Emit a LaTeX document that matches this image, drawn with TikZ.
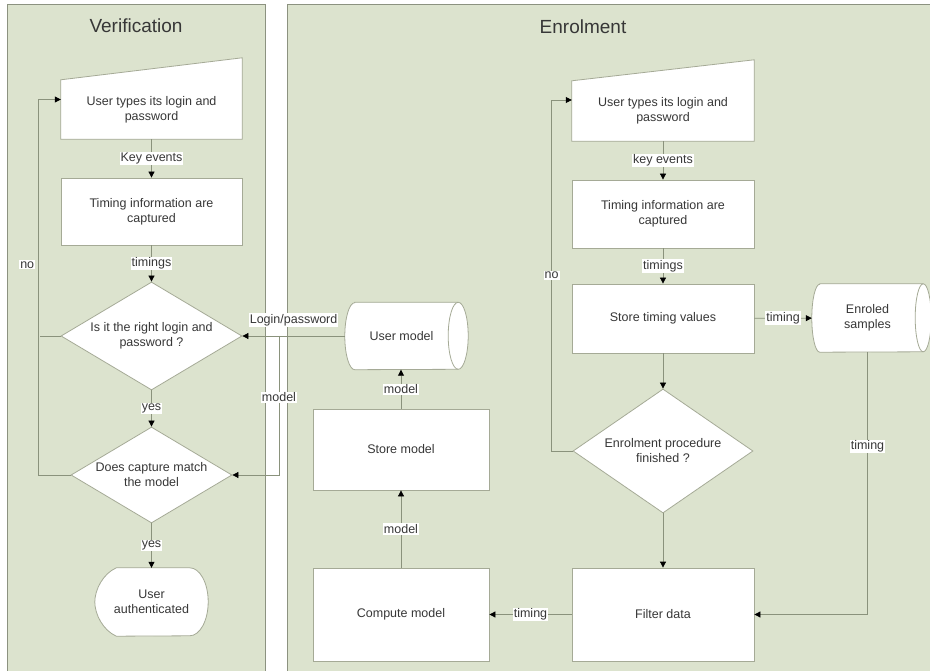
\documentclass[tikz,border=0pt]{standalone}
\usepackage{fontspec}
\setmainfont{Liberation Sans}
\usetikzlibrary{shapes.geometric,arrows.meta,calc,positioning}

\definecolor{panelfill}{RGB}{220,227,206}
\definecolor{paneledge}{RGB}{140,146,128}
\definecolor{linegrey}{RGB}{138,146,124}
\definecolor{boxedge}{RGB}{165,170,150}
\definecolor{inkgrey}{RGB}{55,55,55}

\pgfdeclarelayer{panel}
\pgfdeclarelayer{back}
\pgfsetlayers{panel,back,main}

\tikzset{
  every node/.style={font=\fontsize{12.5}{15}\selectfont, text=inkgrey},
  proc/.style={rectangle, draw=boxedge, fill=white, align=center, minimum width=181pt, inner sep=0pt, line width=0.8pt},
  bare/.style={rectangle, align=center, inner sep=0pt},
  decide/.style={diamond, draw=boxedge, fill=white, align=center, inner sep=0pt, aspect=1.68, line width=0.8pt},
  conn/.style={draw=linegrey, line width=0.8pt, -{Triangle[length=6pt,width=6pt,color=black]}},
  wire/.style={draw=linegrey, line width=0.8pt},
  shp/.style={draw=boxedge, fill=white, line width=0.8pt},
  lbl/.style={fill=white, inner sep=1pt},
  paneltitle/.style={font=\fontsize{19}{22}\selectfont}
}

\begin{document}
\begin{tikzpicture}[x=1pt,y=-1pt]
\useasboundingbox (0,0) rectangle (930,671);

% swimlanes
\begin{pgfonlayer}{panel}
\fill[white] (0,0) rectangle (930,671);
\fill[panelfill] (7,5) rectangle (265,671);
\draw[paneledge, line width=1pt] (7,671) -- (7,5) -- (265,5) -- (265,671);
\fill[panelfill] (287,5) rectangle (930,671);
\draw[paneledge, line width=1pt] (287,671) -- (287,5) -- (930,5);
\end{pgfonlayer}

\node[paneltitle] (vtitle) at (136,26) {Verification};
\node[paneltitle] (etitle) at (583,27) {Enrolment};

% verification
\node[bare, minimum width=181pt, minimum height=59pt] (vin) at (151.5,109.5) {User types its login and\\password};
\node[proc, minimum height=67pt] (vtic) at (151.5,211.5) {Timing information are\\captured};
\node[decide, minimum width=181pt, minimum height=108pt] (vd1) at (151.5,336) {Is it the right login and\\password ?};
\node[decide, minimum width=161pt, minimum height=96pt] (vd2) at (151.5,475) {Does capture match\\the model};
\node[bare, minimum width=113pt, minimum height=68pt] (vok) at (151.5,602) {User\\authenticated};

% enrolment
\node[bare, minimum width=182pt, minimum height=60pt] (ein) at (663,111) {User types its login and\\password};
\node[proc, minimum width=182pt, minimum height=68pt] (etic) at (663,214) {Timing information are\\captured};
\node[proc, minimum width=182pt, minimum height=69pt] (estore) at (663,318.5) {Store timing values};
\node[decide, minimum width=180pt, minimum height=124pt] (edone) at (663,451) {Enrolment procedure\\finished ?};
\node[proc, minimum width=182pt, minimum height=93pt] (efilter) at (663,614.5) {Filter data};
\node[proc, minimum width=176pt, minimum height=93pt] (ecomp) at (401,614.5) {Compute model};
\node[proc, minimum width=176pt, minimum height=81pt] (esm) at (401,449.5) {Store model};
\node[bare, minimum width=113pt, minimum height=67pt] (eum) at (401.5,336) {User model};
\node[bare, minimum width=111pt, minimum height=68pt] (esamp) at (867.5,318) {Enroled\\samples};

% outlines of the non rectangular shapes
\begin{pgfonlayer}{back}
\draw[shp] (vin.south west) -- (vin.north west) -- ([yshift=22pt]vin.north east) -- (vin.south east) -- cycle;
\draw[shp] (ein.south west) -- (ein.north west) -- ([yshift=21pt]ein.north east) -- (ein.south east) -- cycle;
\draw[shp] ($(vok.north west)+(21.5,0)$) -- ($(vok.north east)+(-18.5,0)$)
  arc[start angle=90, end angle=-90, x radius=18.5pt, y radius=34pt]
  -- ($(vok.south west)+(21.5,0)$)
  .. controls ($(vok.south west)+(8,-6)$) and ($(vok.west)+(0,12)$) .. (vok.west)
  .. controls ($(vok.west)+(0,-12)$) and ($(vok.north west)+(8,6)$) .. ($(vok.north west)+(21.5,0)$) -- cycle;
\draw[shp] ($(eum.north west)+(10,0)$) -- (eum.north east)
  arc[start angle=90, end angle=-90, x radius=10pt, y radius=33.5pt]
  -- ($(eum.south west)+(10,0)$)
  arc[start angle=270, end angle=90, x radius=10pt, y radius=33.5pt] -- cycle;
\draw[shp, fill=none] (eum.north east) arc[start angle=90, end angle=270, x radius=10pt, y radius=33.5pt];
\draw[shp] ($(esamp.north west)+(8,0)$) -- (esamp.north east)
  arc[start angle=90, end angle=-90, x radius=8pt, y radius=34pt]
  -- ($(esamp.south west)+(8,0)$)
  arc[start angle=270, end angle=90, x radius=8pt, y radius=34pt] -- cycle;
\draw[shp, fill=none] (esamp.north east) arc[start angle=90, end angle=270, x radius=8pt, y radius=34pt];
\end{pgfonlayer}

% verification flow
\draw[conn] (vin) -- (vtic) node[lbl, midway] {Key events};
\draw[conn] (vtic) -- (vd1) node[lbl, midway] {timings};
\draw[conn] (vd1) -- (vd2) node[lbl, midway] {yes};
\draw[conn] (vd2) -- (vok) node[lbl, midway] {yes};
\draw[conn] (vd2.west) -- ++(-32,0) |- ([yshift=10pt]vin.west) node[lbl, pos=0.28, left=3pt] {no};
\draw[wire] (vd1.west) -- ++(-21,0);
\draw[conn] (eum.west) -- (vd1.east) node[lbl, midway, above=9pt] {Login/password};
\coordinate (vjoin) at (279,336);
\draw[conn] (vjoin) |- (vd2.east) node[lbl, pos=0.22] {model};

% enrolment flow
\draw[conn] (ein) -- (etic) node[lbl, midway] {key events};
\draw[conn] (etic) -- (estore) node[lbl, midway] {timings};
\draw[conn] (estore) -- (esamp) node[lbl, midway] {timing};
\draw[conn] (estore) -- (edone);
\draw[conn] (edone) -- (efilter);
\draw[conn] (edone.west) -- ++(-21,0) |- ([yshift=11pt]ein.west) node[lbl, pos=0.25] {no};
\draw[conn] (esamp.south) |- (efilter.east) node[lbl, pos=0.18] {timing};
\draw[conn] (efilter) -- (ecomp) node[lbl, midway] {timing};
\draw[conn] (ecomp) -- (esm) node[lbl, midway] {model};
\draw[conn] (esm.north) -- (esm.north |- eum.south) node[lbl, midway] {model};
\end{tikzpicture}
\end{document}
